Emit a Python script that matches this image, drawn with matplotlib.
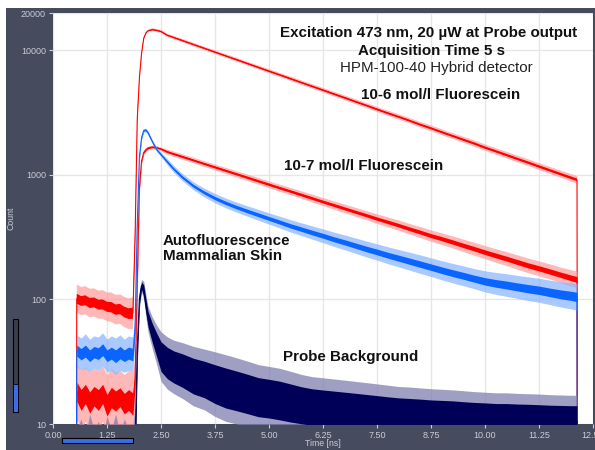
import numpy as np
import matplotlib
matplotlib.use("Agg")
import matplotlib.pyplot as plt
from matplotlib.patches import Rectangle

# ---------------- data ----------------
time_ns = [0.54, 0.55, 0.65, 0.75, 0.85, 0.95, 1.05, 1.15, 1.25, 1.35, 1.45, 1.55, 1.65, 1.75, 1.85,
           1.90, 1.95, 2.00, 2.05, 2.10, 2.15, 2.20, 2.30, 2.40, 2.50, 2.65, 2.80, 3.00, 3.25, 3.50, 3.75,
           4.00, 4.25, 4.50, 4.75, 5.00, 5.25, 5.50, 5.75, 6.00, 6.25, 6.50, 6.75, 7.00, 7.25, 7.50, 7.75,
           8.00, 8.25, 8.50, 8.75, 9.00, 9.25, 9.50, 9.75, 10.00, 10.25, 10.50, 10.75, 11.00, 11.25, 11.50,
           11.75, 12.00, 12.13, 12.14]

# 10-6 mol/l Fluorescein: lower / upper envelope of the noisy trace (counts)
fl6_lo = [1, 78, 75, 76, 72, 73, 70, 70, 67, 66, 63, 64, 60, 58, 58,
          250, 2500, 5700, 9200, 12200, 13500, 14100, 14300, 14100, 13800, 12850, 12300, 11620, 10820, 10080, 9380,
          8740, 8140, 7580, 7060, 6570, 6120, 5700, 5300, 4940, 4600, 4280, 3990, 3710, 3460, 3210, 2990,
          2790, 2600, 2410, 2250, 2090, 1950, 1815, 1690, 1565, 1460, 1360, 1265, 1180, 1097, 1021,
          950, 884, 852, 1]
fl6_hi = [1, 132, 126, 128, 122, 123, 118, 119, 114, 114, 109, 110, 105, 102, 104,
          400, 3100, 6300, 9800, 12800, 14100, 14700, 15100, 14900, 14600, 13620, 13080, 12370, 11530, 10750, 10030,
          9350, 8730, 8130, 7590, 7080, 6610, 6170, 5750, 5370, 5010, 4670, 4360, 4060, 3790, 3530, 3290,
          3080, 2870, 2670, 2500, 2330, 2170, 2030, 1895, 1760, 1645, 1535, 1432, 1337, 1247, 1164,
          1086, 1015, 980, 1]

# 10-7 mol/l Fluorescein
fl7_lo = [1, 11, 9, 10.5, 8.5, 10, 9, 10.5, 8, 9.5, 9, 10, 8.5, 9, 8,
          15, 100, 700, 1230, 1460, 1540, 1590, 1620, 1600, 1560, 1462, 1405, 1334, 1250, 1170, 1096,
          1026, 961, 900, 842, 789, 739, 692, 648, 606, 567, 531, 497, 466, 437, 408, 383,
          359, 335, 314, 293, 276, 259, 242, 227, 212, 199, 187, 175, 164, 155, 146,
          137, 128, 124, 1]
fl7_hi = [1, 30, 27, 29, 26, 28, 27, 29, 25, 28, 26, 27, 25, 27, 26,
          35, 200, 900, 1370, 1580, 1660, 1710, 1740, 1720, 1680, 1612, 1552, 1476, 1386, 1302, 1222,
          1150, 1080, 1016, 954, 896, 842, 793, 745, 701, 658, 620, 584, 549, 518, 487, 460,
          434, 408, 385, 362, 343, 324, 305, 288, 271, 256, 242, 228, 215, 204, 193,
          182, 173, 169, 1]

# Autofluorescence, mammalian skin
skin_lo = [1, 29, 27, 28, 26, 28, 27, 29, 26, 27, 25, 27, 26, 27, 26,
           45, 330, 1300, 1920, 2200, 2220, 2100, 1780, 1540, 1400, 1197, 1045, 893, 760, 667, 597,
           545, 502, 466, 433, 403, 375, 348, 326, 305, 286, 267, 251, 235, 220, 207, 194,
           183, 172, 162, 153, 144, 136, 129, 122, 115, 110, 106, 102, 98, 95, 91,
           87, 84, 82, 1]
skin_hi = [1, 52, 49, 53, 48, 51, 50, 54, 48, 51, 49, 52, 48, 51, 50,
           80, 480, 1500, 2080, 2360, 2380, 2260, 1920, 1660, 1520, 1345, 1183, 1023, 880, 784, 710,
           652, 605, 565, 530, 496, 466, 437, 413, 390, 369, 348, 330, 312, 295, 280, 265,
           252, 240, 228, 216, 205, 195, 186, 177, 170, 165, 161, 156, 152, 148, 143,
           139, 136, 134, 1]

# Probe background
probe_lo = [1, 2, 2, 2, 2, 2, 2, 2, 2, 2, 2, 2, 2, 2, 2,
            3, 28, 85, 115, 100, 72, 55, 40, 30, 22, 19, 17.5, 16, 14, 13, 11.5,
            10.5, 10, 9.5, 9, 8.8, 8.5, 8.2, 8, 7.8, 7.6, 7.5, 7.4, 7.3, 7.2, 7.1, 7.0,
            7.0, 6.9, 6.9, 6.8, 6.8, 6.8, 6.7, 6.7, 6.7, 6.6, 6.6, 6.6, 6.6, 6.5, 6.5,
            6.5, 6.5, 6.5, 1]
probe_hi = [1, 9, 11, 8, 12, 9, 10.5, 8, 11.5, 9, 12, 8.5, 11, 9, 10,
            14, 55, 120, 145, 140, 110, 88, 72, 62, 55, 50, 47, 45, 42, 40, 38,
            36, 34, 32, 30, 29, 28, 26.5, 25, 24, 23.5, 23, 22.5, 22, 21.5, 21, 20.5,
            20, 19.8, 19.5, 19.2, 19, 18.8, 18.5, 18.2, 18, 17.8, 17.8, 17.6, 17.5, 17.4, 17.2,
            17.1, 17, 17, 1]

x_ticks = [0.00, 1.25, 2.50, 3.75, 5.00, 6.25, 7.50, 8.75, 10.00, 11.25, 12.50]
y_ticks = [10, 100, 1000, 10000, 20000]

# ---------------- drawing ----------------
plt.rcParams["font.family"] = ["Liberation Sans", "DejaVu Sans"]
fig = plt.figure(figsize=(5.95, 4.5), dpi=100, facecolor="white")
W, H = 595.0, 450.0
panel = "#464c5e"
fig.patches.append(Rectangle((6 / W, 0), 1, (H - 8) / H, transform=fig.transFigure,
                             facecolor=panel, edgecolor="none", zorder=-10))

ax = fig.add_axes([53 / W, 26 / H, 540 / W, 411 / H])
ax.set_facecolor("white")
ax.set_yscale("log")
ax.set_xlim(0, 12.5)
ax.set_ylim(10, 20000)

t = np.array(time_ns)
series = [
    (fl6_lo, fl6_hi, "#ff0000", "#ff9a9a", 0.35, 0.7),
    (fl7_lo, fl7_hi, "#ff0000", "#ff9a9a", 0.35, 0.7),
    (skin_lo, skin_hi, "#0a64ff", "#86b4ff", 0.35, 0.7),
    (probe_lo, probe_hi, "#000058", "#7f7fb0", 0.6, 0.75),
]
z = 3
for lo, hi, col, light, core, alpha in series:
    lo = np.array(lo, float)
    hi = np.array(hi, float)
    mid = np.sqrt(lo * hi)
    clo = mid * (lo / mid) ** core
    chi = mid * (hi / mid) ** core
    ax.fill_between(t, lo, hi, color=light, alpha=alpha, lw=0, zorder=z)
    ax.fill_between(t, clo, chi, color=col, lw=0, zorder=z + 0.1)
    ax.plot(t, mid, color=col, lw=0.8, zorder=z + 0.2)
    z += 1

ax.set_xticks(x_ticks)
ax.set_xticklabels([f"{v:.2f}" for v in x_ticks])
ax.set_yticks(y_ticks)
ax.set_yticklabels([str(v) for v in y_ticks])
ax.yaxis.set_minor_locator(matplotlib.ticker.NullLocator())
tickcol = "#c9ccd3"
ax.tick_params(axis="both", colors=tickcol, labelsize=6.5, length=3, width=0.8, pad=2)
ax.grid(True, color="#e6e6e6", lw=1, zorder=0)
ax.set_axisbelow(True)
for s in ax.spines.values():
    s.set_visible(False)

ax.set_ylabel("Count", color=tickcol, fontsize=6.3)
ax.yaxis.set_label_coords(-0.069, 0.5)
ax.set_xlabel("Time [ns]", color=tickcol, fontsize=6.3, va="center")
ax.xaxis.set_label_coords(0.5, -0.048)

fs = 10.9
ax.text(8.70, 13800, "Excitation 473 nm, 20 \u00b5W at Probe output", ha="center", va="center",
        fontsize=fs, fontweight="bold", color="#111111", zorder=20)
ax.text(8.77, 9910, "Acquisition Time 5 s", ha="center", va="center",
        fontsize=fs, fontweight="bold", color="#111111", zorder=20)
ax.text(8.87, 7240, "HPM-100-40 Hybrid detector", ha="center", va="center",
        fontsize=fs, color="#222222", zorder=20)
ax.text(8.98, 4400, "10-6 mol/l Fluorescein", ha="center", va="center",
        fontsize=fs, fontweight="bold", color="#111111", zorder=20)
ax.text(7.20, 1180, "10-7 mol/l Fluorescein", ha="center", va="center",
        fontsize=fs, fontweight="bold", color="#111111", zorder=20)
ax.text(2.546, 295, "Autofluorescence", ha="left", va="center",
        fontsize=fs, fontweight="bold", color="#111111", zorder=20)
ax.text(2.546, 223, "Mammalian Skin", ha="left", va="center",
        fontsize=fs, fontweight="bold", color="#111111", zorder=20)
ax.text(6.90, 34.5, "Probe Background", ha="center", va="center",
        fontsize=fs, fontweight="bold", color="#111111", zorder=20)

# scroll / zoom widgets
slider_blue = "#3b6ee6"
fig.patches.append(Rectangle((13 / W, (H - 412) / H), 5 / W, 93 / H, transform=fig.transFigure,
                             facecolor="#3a3f4e", edgecolor="black", lw=0.8, zorder=5))
fig.patches.append(Rectangle((13 / W, (H - 412) / H), 5 / W, 28 / H, transform=fig.transFigure,
                             facecolor=slider_blue, edgecolor="black", lw=0.6, zorder=6))
fig.patches.append(Rectangle((62 / W, (H - 443) / H), 71 / W, 5 / H, transform=fig.transFigure,
                             facecolor=slider_blue, edgecolor="black", lw=0.8, zorder=6))

fig.savefig("out.png", dpi=100, facecolor="white")
